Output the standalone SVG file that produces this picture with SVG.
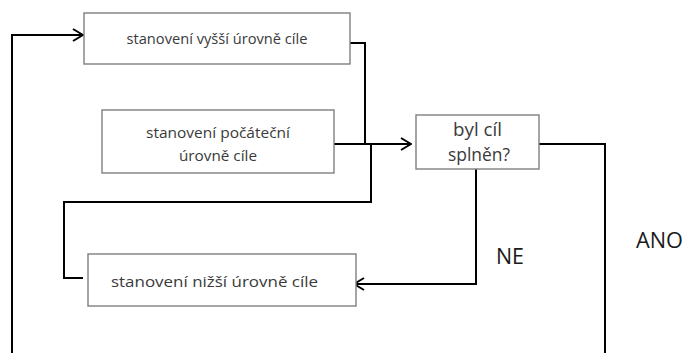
<svg xmlns="http://www.w3.org/2000/svg" width="685" height="353" viewBox="0 0 685 353">
<style>
.box{fill:#fff;stroke:#7f7f7f;stroke-width:1.4}
.t{font-family:"Open Sans","Noto Sans","DejaVu Sans",sans-serif;fill:#3a3a3a;text-anchor:middle}
.s{font-size:14.5px}
.b{font-size:18px}
.lbl{font-family:"Open Sans","Noto Sans","DejaVu Sans",sans-serif;font-size:21px;fill:#1a1a1a}
.c{fill:none;stroke:#000;stroke-width:2}
</style>
<defs>
<marker id="arr" viewBox="0 0 12 14" refX="11" refY="7" markerWidth="12" markerHeight="14" markerUnits="userSpaceOnUse" orient="auto">
<path d="M1,1 L11,7 L1,13" fill="none" stroke="#000" stroke-width="2"/>
</marker>
</defs>
<rect width="685" height="353" fill="#fff"/>
<g id="connectors">
<path class="c" d="M12,353 L12,35 L83,35" marker-end="url(#arr)"/>
<path class="c" d="M350,43 L365,43 L365,144"/>
<path class="c" d="M334,144 L411,144" marker-end="url(#arr)"/>
<path class="c" d="M371,144 L371,202 L64,202 L64,278 L83,278"/>
<path class="c" d="M476,169 L476,284 L354,284" marker-end="url(#arr)"/>
<path class="c" d="M539,144 L605,144 L605,353"/>
</g>
<g id="n1">
<rect class="box" x="84" y="13" width="266" height="51"/>
<text class="t s" x="217" y="44" textLength="181" lengthAdjust="spacingAndGlyphs">stanovení vyšší úrovně cíle</text>
</g>
<g id="n2">
<rect class="box" x="102" y="110" width="232" height="63"/>
<text class="t s" x="218" y="138" textLength="144" lengthAdjust="spacingAndGlyphs">stanovení počáteční</text>
<text class="t s" x="218" y="161" textLength="78" lengthAdjust="spacingAndGlyphs">úrovně cíle</text>
</g>
<g id="n3">
<rect class="box" x="416" y="115" width="123" height="54"/>
<text class="t b" x="477.5" y="136" textLength="49" lengthAdjust="spacingAndGlyphs">byl cíl</text>
<text class="t b" x="479" y="161" textLength="62" lengthAdjust="spacingAndGlyphs">splněn?</text>
</g>
<g id="n4">
<rect class="box" x="88" y="254" width="268" height="52"/>
<text class="t s" x="214.5" y="287" textLength="207" lengthAdjust="spacingAndGlyphs">stanovení nižší úrovně cíle</text>
</g>
<g id="labels">
<text class="lbl" x="496" y="264" textLength="28" lengthAdjust="spacingAndGlyphs">NE</text>
<text class="lbl" x="636" y="248" textLength="47" lengthAdjust="spacingAndGlyphs">ANO</text>
</g>
</svg>
